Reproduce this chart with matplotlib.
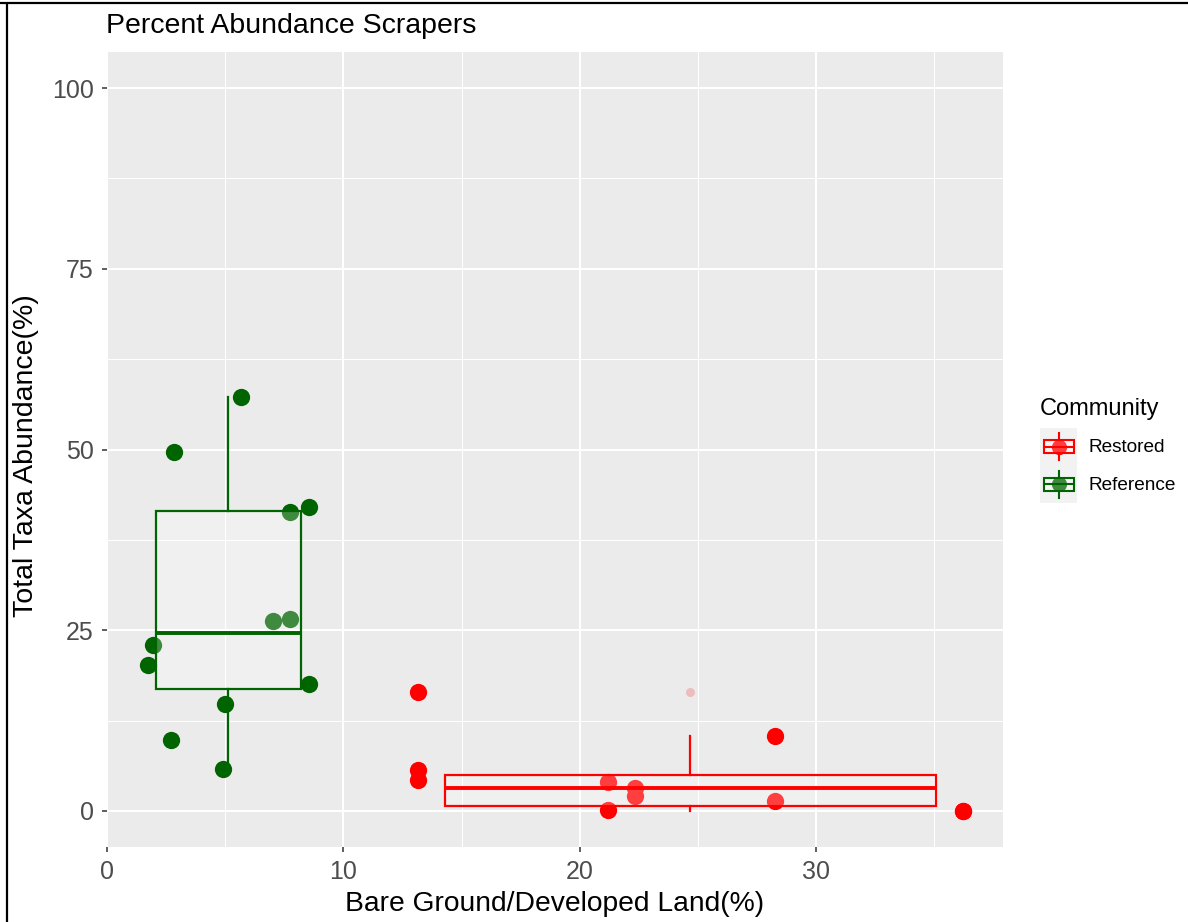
import matplotlib
matplotlib.use("Agg")
import matplotlib.pyplot as plt
from matplotlib.patches import Rectangle
import numpy as np

plt.rcParams['font.family'] = ['Liberation Sans', 'DejaVu Sans']

W, H = 1188, 922

# Reference sites
ref_x = [5.66, 2.82, 7.75, 8.55, 7.03, 7.75, 1.93, 1.72, 8.55, 5.00, 2.70, 4.89]
ref_y = [57.3, 49.6, 41.4, 42.0, 26.3, 26.6, 23.0, 20.2, 17.5, 14.8, 9.8, 5.8]

# Restored sites (two sites sit on top of each other at 36.2 / 0)
res_x = [13.15, 13.15, 13.15, 21.2, 21.2, 22.33, 22.33, 28.26, 28.26, 36.2, 36.2]
res_y = [16.5, 5.7, 4.3, 4.05, 0.1, 3.1, 2.1, 10.4, 1.3, 0.0, 0.0]

groups = ["Restored", "Reference"]
colors = {"Restored": "#FF0000", "Reference": "#006400"}
data = {"Restored": (res_x, res_y), "Reference": (ref_x, ref_y)}

x_major = [0, 10, 20, 30]
y_major = [0, 25, 50, 75, 100]

fig = plt.figure(figsize=(W / 100, H / 100), dpi=100)
ax = fig.add_axes([107 / W, 1 - 847 / H, (1003 - 107) / W, (847 - 52) / H])
ax.set_facecolor("#EBEBEB")

for g in groups:
    x = np.array(data[g][0])
    y = np.array(data[g][1])
    col = colors[g]
    ax.scatter(x, y, s=155, color=col, linewidths=0, zorder=3)
    # box spans the x-range of the group, like ggplot's default width
    pos = (x.min() + x.max()) / 2
    wid = 0.9 * (x.max() - x.min())
    ax.boxplot(y, positions=[pos], widths=wid, whis=1.5, patch_artist=True,
               showcaps=False, manage_ticks=False, zorder=4,
               boxprops=dict(facecolor=(1, 1, 1, 0.25), edgecolor=col, linewidth=1.6),
               medianprops=dict(color=col, linewidth=2.8, solid_capstyle='butt'),
               whiskerprops=dict(color=col, linewidth=1.6),
               flierprops=dict(marker='o', markerfacecolor=col, markeredgecolor='none',
                               markersize=6.5, alpha=0.2))

ax.set_xlim(0, 37.9)
ax.set_ylim(-5, 105)
ax.set_xticks(x_major)
ax.set_xticks([5, 15, 25, 35], minor=True)
ax.set_yticks(y_major)
ax.set_yticks([12.5, 37.5, 62.5, 87.5], minor=True)
ax.grid(which='major', color='white', linewidth=1.5)
ax.grid(which='minor', color='white', linewidth=0.75)
ax.set_axisbelow(True)
for s in ax.spines.values():
    s.set_visible(False)
ax.tick_params(which='major', length=3.6, width=1.1, color='#333333',
               labelcolor='#4D4D4D', labelsize=18, pad=6)
ax.tick_params(which='minor', length=0)

fig.text(106 / W, 1 - 33 / H, "Percent Abundance Scrapers", ha='left', va='baseline',
         fontsize=20.5, color='black')
fig.text(555 / W, 1 - 904 / H, "Bare Ground/Developed Land(%)", ha='center', va='center',
         fontsize=20.3, color='black')
fig.text(26 / W, 1 - 456 / H, "Total Taxa Abundance(%)", ha='center', va='center',
         rotation=90, fontsize=20.5, color='black')

# overlay in pixel units for the legend and the frame lines
ov = fig.add_axes([0, 0, 1, 1], zorder=10)
ov.set_xlim(0, W)
ov.set_ylim(H, 0)
ov.axis('off')
ov.patch.set_alpha(0)

ov.plot([0, W], [3.5, 3.5], color='black', linewidth=1.6, solid_capstyle='butt')
ov.plot([7, 7], [3, H], color='black', linewidth=1.6, solid_capstyle='butt')

ov.text(1040, 409, "Community", ha='left', va='center', fontsize=17)
key_h = 37.5
for i, g in enumerate(groups):
    col = colors[g]
    top = 428 + i * key_h
    cy = top + key_h / 2
    cx = 1058.5
    ov.add_patch(Rectangle((1040, top), 37, key_h, facecolor='#F2F2F2', edgecolor='none'))
    ov.plot([cx, cx], [cy - 13.5, cy + 13.5], color=col, linewidth=1.5)
    ov.scatter([cx], [cy], s=120, color=col, linewidths=0, zorder=3)
    ov.add_patch(Rectangle((1043.5, cy - 6.5), 30, 13, facecolor=(1, 1, 1, 0.25),
                           edgecolor=col, linewidth=1.5, zorder=4))
    ov.plot([1043.5, 1073.5], [cy, cy], color=col, linewidth=1.5, zorder=5)
    ov.text(1089, cy + 1, g, ha='left', va='center', fontsize=13.7)

fig.savefig("out.png", dpi=100, facecolor='white')
